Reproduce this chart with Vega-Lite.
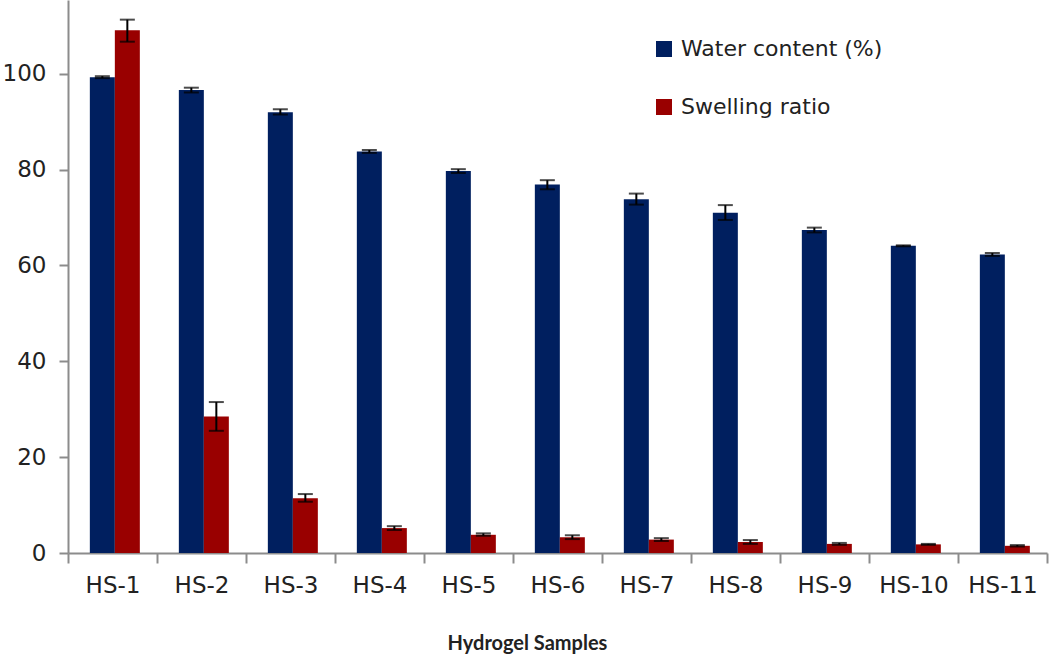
{
  "$schema": "https://vega.github.io/schema/vega-lite/v6.json",
  "width": 979,
  "height": 553,
  "autosize": {"type": "none"},
  "padding": {"left": 68, "top": 0, "right": 3, "bottom": 102},
  "background": "white",
  "config": {
    "view": {"stroke": null},
    "font": "DejaVu Sans"
  },
  "data": {
    "values": [
      {"sample": "HS-1", "series": "Water content (%)", "value": 99.3, "lo": 99.1, "hi": 99.5},
      {"sample": "HS-2", "series": "Water content (%)", "value": 96.6, "lo": 96.1, "hi": 97.1},
      {"sample": "HS-3", "series": "Water content (%)", "value": 92.0, "lo": 91.5, "hi": 92.6},
      {"sample": "HS-4", "series": "Water content (%)", "value": 83.8, "lo": 83.5, "hi": 84.1},
      {"sample": "HS-5", "series": "Water content (%)", "value": 79.7, "lo": 79.3, "hi": 80.1},
      {"sample": "HS-6", "series": "Water content (%)", "value": 76.9, "lo": 75.9, "hi": 77.8},
      {"sample": "HS-7", "series": "Water content (%)", "value": 73.8, "lo": 72.7, "hi": 75.0},
      {"sample": "HS-8", "series": "Water content (%)", "value": 71.0, "lo": 69.5, "hi": 72.6},
      {"sample": "HS-9", "series": "Water content (%)", "value": 67.4, "lo": 66.9, "hi": 67.9},
      {"sample": "HS-10", "series": "Water content (%)", "value": 64.1, "lo": 64.0, "hi": 64.2},
      {"sample": "HS-11", "series": "Water content (%)", "value": 62.3, "lo": 62.0, "hi": 62.6},
      {"sample": "HS-1", "series": "Swelling ratio", "value": 109.1, "lo": 106.7, "hi": 111.3},
      {"sample": "HS-2", "series": "Swelling ratio", "value": 28.5, "lo": 25.5, "hi": 31.5},
      {"sample": "HS-3", "series": "Swelling ratio", "value": 11.4, "lo": 10.7, "hi": 12.3},
      {"sample": "HS-4", "series": "Swelling ratio", "value": 5.2, "lo": 4.8, "hi": 5.6},
      {"sample": "HS-5", "series": "Swelling ratio", "value": 3.8, "lo": 3.6, "hi": 4.1},
      {"sample": "HS-6", "series": "Swelling ratio", "value": 3.3, "lo": 2.9, "hi": 3.7},
      {"sample": "HS-7", "series": "Swelling ratio", "value": 2.8, "lo": 2.5, "hi": 3.1},
      {"sample": "HS-8", "series": "Swelling ratio", "value": 2.3, "lo": 1.9, "hi": 2.7},
      {"sample": "HS-9", "series": "Swelling ratio", "value": 1.9, "lo": 1.7, "hi": 2.1},
      {"sample": "HS-10", "series": "Swelling ratio", "value": 1.8, "lo": 1.7, "hi": 1.9},
      {"sample": "HS-11", "series": "Swelling ratio", "value": 1.5, "lo": 1.35, "hi": 1.65}
    ]
  },
  "encoding": {
    "x": {
      "field": "sample",
      "type": "nominal",
      "sort": null,
      "scale": {"paddingInner": 0, "paddingOuter": 0},
      "axis": {
        "title": "Hydrogel Samples",
        "titleFont": "Liberation Sans Narrow, Lato",
        "titleFontWeight": "bold",
        "titleFontSize": 20,
        "titleColor": "#222222",
        "titleX": 459,
        "titleY": 96,
        "titleBaseline": "alphabetic",
        "titleAnchor": "start",
        "titleAlign": "center",
        "labelAngle": 0,
        "labelFontSize": 23,
        "labelColor": "#222222",
        "labelPadding": 11,
        "tickBand": "extent",
        "tickSize": 10,
        "tickWidth": 2,
        "tickColor": "#8c8c8c",
        "domainColor": "#8c8c8c",
        "domainWidth": 2
      }
    },
    "xOffset": {
      "field": "series",
      "type": "nominal",
      "sort": ["Water content (%)", "Swelling ratio"],
      "scale": {"paddingInner": 0, "paddingOuter": 0.78, "align": 0.56}
    }
  },
  "layer": [
    {
      "mark": {"type": "bar"},
      "encoding": {
        "y": {
          "field": "value",
          "type": "quantitative",
          "scale": {"domain": [0, 115.4], "nice": false},
          "axis": {
            "title": null,
            "values": [0, 20, 40, 60, 80, 100],
            "grid": false,
            "labelFontSize": 23,
            "labelColor": "#222222",
            "labelPadding": 13,
            "tickSize": 9,
            "tickWidth": 2,
            "tickColor": "#8c8c8c",
            "domainColor": "#8c8c8c",
            "domainWidth": 2
          }
        },
        "color": {
          "field": "series",
          "type": "nominal",
          "sort": ["Water content (%)", "Swelling ratio"],
          "scale": {"domain": ["Water content (%)", "Swelling ratio"], "range": ["#001f5f", "#990000"]},
          "legend": {
            "title": null,
            "orient": "none",
            "legendX": 585,
            "legendY": 38,
            "symbolType": "square",
            "symbolSize": 256,
            "symbolStrokeWidth": 0,
            "labelFontSize": 22,
            "labelLimit": 400,
            "labelColor": "#222222",
            "labelOffset": 6,
            "rowPadding": 36
          }
        }
      }
    },
    {
      "mark": {"type": "rule", "color": "black", "strokeWidth": 2},
      "encoding": {
        "y": {"field": "lo", "type": "quantitative"},
        "y2": {"field": "hi"}
      }
    },
    {
      "mark": {"type": "tick", "color": "black", "thickness": 2, "size": 15},
      "encoding": {
        "y": {"field": "lo", "type": "quantitative"}
      }
    },
    {
      "mark": {"type": "tick", "color": "black", "thickness": 2, "size": 15},
      "encoding": {
        "y": {"field": "hi", "type": "quantitative"}
      }
    }
  ]
}
